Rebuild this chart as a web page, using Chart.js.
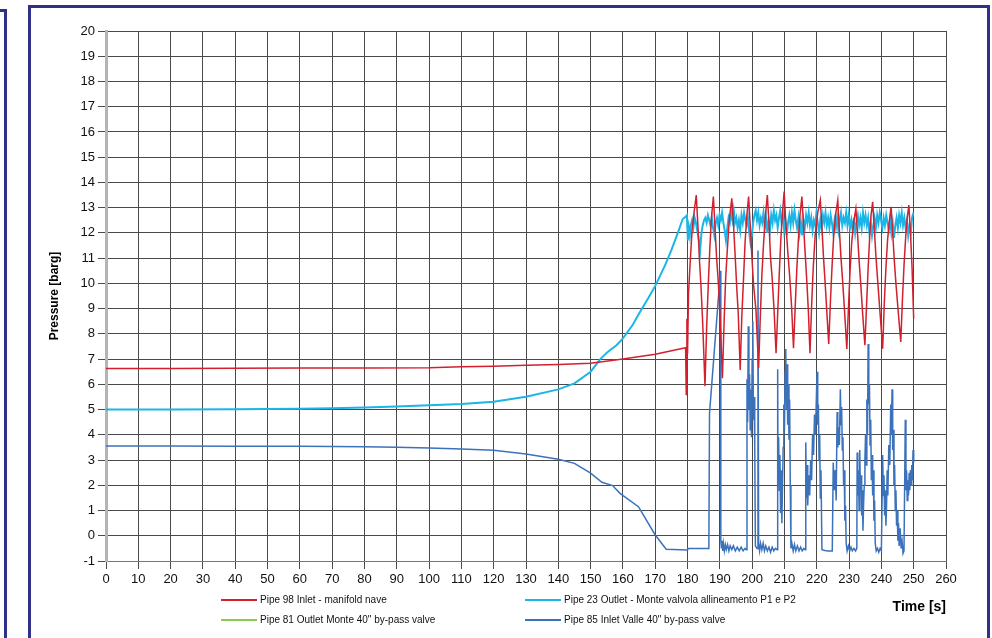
<!DOCTYPE html>
<html>
<head>
<meta charset="utf-8">
<script src="https://cdn.jsdelivr.net/npm/chart.js@4.4.1/dist/chart.umd.min.js"></script>
<style>
  body { margin: 0; background: #fff; width: 992px; height: 638px; overflow: hidden; position: relative; }
  .frame { position: absolute; border: 3px solid #2e3185; box-sizing: border-box; }
  #my-chart { position: absolute; left: 0; top: 0; }
  .leg { position: absolute; font: 10px 'Liberation Sans', Arial, sans-serif; color: #111; white-space: nowrap; }
  .leg span.ln { display: inline-block; width: 36px; height: 0; border-top: 2px solid; vertical-align: middle; margin-right: 3px; }
</style>
</head>
<body>
<div class="frame" style="left:-20px; top:9px; width:27px; height:700px;"></div>
<div class="frame" style="left:28px; top:5px; width:962px; height:700px;"></div>
<canvas id="my-chart" width="992" height="638"></canvas>
<div id="legend"></div>
<script>
// axis ticks
const xTicks = { min: 0, max: 260, step: 10 };
const yTicks = { min: -1, max: 20, step: 1 };

// Pipe 98 Inlet - manifold nave
const redT = [0, 20, 40, 60, 80, 100, 110, 120, 130, 140, 150, 160, 170, 179, 179.4, 179.6, 179.8, 180.0, 180.3, 180.8, 181.4, 182.0, 182.7,
  183.2, 183.7, 184.2, 184.7, 185.4, 185.9, 186.4, 186.9, 187.4, 188.0, 188.5, 189.0, 189.5, 190.1, 190.8, 191.3, 191.8, 192.3, 192.9, 193.7,
  194.2, 194.7, 195.2, 195.7, 196.3, 196.8, 197.3, 197.8, 198.3, 198.9, 199.4, 199.9, 200.4, 201.2, 202.0, 202.5, 203.0, 203.5, 204.1, 204.7,
  205.2, 205.7, 206.2, 206.8, 207.4, 207.9, 208.4, 208.9, 209.4, 209.9, 210.4, 211.0, 211.6, 212.2, 212.8, 213.3, 213.8, 214.3, 214.8, 215.4,
  215.9, 216.5, 217.0, 217.4, 217.9, 218.4, 218.9, 219.5, 220.3, 221.1, 221.6, 222.1, 222.6, 223.1, 223.7, 224.2, 224.7, 225.2, 225.8, 226.5,
  227.0, 227.5, 228.0, 228.6, 229.3, 229.8, 230.3, 230.8, 231.4, 232.1, 232.6, 233.1, 233.6, 234.2, 234.9, 235.4, 235.9, 236.4, 236.8, 237.3,
  237.8, 238.3, 238.8, 239.6, 240.4, 240.9, 241.4, 241.9, 242.4, 243.0, 243.5, 244.0, 244.5, 245.2, 246.0, 246.5, 247.0, 247.5, 248.0, 248.5,
  249.0, 249.5, 250.0];
const redV = [6.63, 6.63, 6.64, 6.65, 6.65, 6.66, 6.70, 6.72, 6.76, 6.79, 6.84, 7.0, 7.19, 7.44, 7.45, 5.6, 8.6, 7.2, 9.6, 10.8, 12.1, 12.8, 13.5,
  12.3, 10.9, 9.8, 8.4, 5.93, 8.2, 9.9, 11.4, 12.6, 13.44, 12.2, 11.0, 10.1, 8.6, 6.24, 8.4, 10.2, 11.3, 12.5, 13.37,
  12.4, 11.2, 9.9, 8.8, 6.57, 8.7, 10.1, 11.6, 12.6, 13.44, 12.3, 11.1, 10.0, 8.9, 6.64, 8.6, 10.3, 11.5, 12.7, 13.5,
  12.4, 11.0, 10.2, 8.9, 7.23, 8.8, 10.4, 11.8, 12.8, 13.64, 12.4, 11.3, 10.3, 9.1, 7.43, 9.0, 10.5, 11.7, 12.7, 13.44,
  12.3, 11.0, 9.9, 8.9, 7.23, 9.1, 10.6, 11.9, 12.8, 13.3, 12.2, 11.0, 10.0, 8.9, 7.6, 9.2, 10.6, 11.8, 12.7, 13.3,
  12.1, 11.0, 10.1, 8.9, 7.4, 9.0, 10.5, 11.6, 12.4, 12.96, 12.0, 10.9, 10.0, 8.8, 7.55, 9.1, 10.6, 11.9, 12.7, 13.23,
  12.2, 11.1, 10.2, 8.8, 7.41, 9.2, 10.6, 11.7, 12.4, 13.03, 12.0, 10.9, 10.0, 8.9, 7.68, 9.3, 10.7, 11.8, 12.6, 13.1,
  12.0, 10.6, 8.6];

// Pipe 23 Outlet - Monte valvola allineamento P1 e P2
const cyanT = [0, 20, 40, 50, 60, 70, 80, 90, 100, 110, 120, 130, 140, 145, 150, 153, 155, 158, 160, 163, 165, 168, 170, 173, 175, 177, 178.5, 179.0, 179.5,
  179.8, 180.1, 180.4, 180.7, 181.0, 181.4, 181.8, 182.2, 182.6, 183.0, 183.4, 183.9, 184.3, 184.7, 185.1, 185.5, 185.9, 186.3, 186.7, 187.1,
  187.5, 187.9, 188.3, 188.7, 189.1, 189.5, 189.9, 190.3, 190.7, 191.1, 191.5, 191.9, 192.3, 192.7, 193.1, 193.5, 193.9, 194.3, 194.7, 195.1,
  195.5, 195.9, 196.3, 196.7, 197.1, 197.5, 197.9, 198.3, 198.7, 199.1, 199.5, 199.9, 200.3, 200.7, 201.1, 201.5, 201.9, 202.3, 202.7, 203.1,
  203.5, 203.9, 204.3, 204.7, 205.1, 205.5, 205.9, 206.3, 206.7, 207.1, 207.5, 207.9, 208.3, 208.7, 209.1, 209.5, 209.9, 210.3, 210.7, 211.1,
  211.5, 211.9, 212.3, 212.7, 213.1, 213.5, 213.9, 214.3, 214.7, 215.1, 215.5, 215.9, 216.3, 216.7, 217.1, 217.5, 217.9, 218.3, 218.7, 219.1,
  219.5, 219.9, 220.3, 220.7, 221.1, 221.5, 221.9, 222.3, 222.7, 223.1, 223.5, 223.9, 224.3, 224.7, 225.1, 225.5, 225.9, 226.3, 226.7, 227.1,
  227.5, 227.9, 228.3, 228.7, 229.1, 229.5, 229.9, 230.3, 230.7, 231.1, 231.5, 231.9, 232.3, 232.7, 233.1, 233.5, 233.9, 234.3, 234.7, 235.1,
  235.5, 235.9, 236.3, 236.7, 237.1, 237.5, 237.9, 238.3, 238.7, 239.1, 239.5, 239.9, 240.3, 240.7, 241.1, 241.5, 241.9, 242.3, 242.7, 243.1,
  243.5, 243.9, 244.3, 244.7, 245.1, 245.5, 245.9, 246.3, 246.7, 247.1, 247.5, 247.9, 248.3, 248.7, 249.1, 249.5, 249.9];
const cyanV = [5.0, 5.0, 5.01, 5.02, 5.03, 5.05, 5.08, 5.12, 5.17, 5.22, 5.31, 5.51, 5.80, 6.04, 6.50, 7.0, 7.25, 7.55, 7.82, 8.35, 8.81, 9.45, 9.9, 10.7, 11.32, 12.0, 12.55, 12.6, 12.65,
  12.7, 11.7, 12.2, 11.9, 12.3, 12.5, 12.2, 12.6, 12.4, 12.1, 11.8, 11.3, 12.0, 12.3, 12.5, 12.6, 12.4, 12.7, 12.5, 12.3,
  12.6, 12.2, 11.9, 12.4, 12.6, 12.3, 12.7, 12.5, 12.8, 12.4, 12.1, 11.7, 12.2, 12.6, 12.4, 12.8, 12.5, 12.9, 12.4, 12.6,
  12.2, 12.5, 12.1, 12.7, 12.4, 12.8, 12.5, 12.3, 12.6, 12.0, 11.6, 11.9, 12.4, 12.7, 12.9, 12.5, 12.8, 12.3, 12.6, 12.4,
  12.8, 12.2, 12.6, 12.0, 12.5, 12.1, 12.7, 12.4, 12.9, 12.5, 12.7, 12.2, 12.6, 12.9, 12.4, 12.7, 12.1, 12.5, 11.9, 12.4,
  12.7, 12.3, 12.8, 12.4, 12.9, 12.5, 12.2, 12.6, 12.0, 12.4, 11.9, 12.5, 12.2, 12.7, 12.4, 12.8, 12.3, 12.6, 12.1, 12.5,
  12.3, 12.8, 12.4, 12.0, 12.5, 12.2, 12.7, 12.4, 12.8, 12.3, 12.6, 12.2, 12.7, 12.4, 12.0, 12.5, 12.2, 12.6, 12.1, 12.5,
  12.8, 12.3, 12.6, 12.4, 12.8, 12.3, 12.7, 12.2, 12.5, 12.1, 12.6, 12.0, 12.4, 12.7, 12.3, 12.6, 12.2, 12.8, 12.4, 12.7,
  12.3, 12.6, 12.0, 12.4, 11.9, 12.3, 12.6, 12.2, 12.7, 12.4, 12.8, 12.5, 12.2, 12.6, 12.3, 12.7, 12.4, 12.1, 12.5, 12.0,
  12.4, 11.8, 12.3, 12.6, 12.2, 12.7, 12.4, 12.8, 12.3, 12.6, 12.2, 12.5, 11.9, 12.3, 12.0, 12.6, 12.8];

// Pipe 85 Inlet Valle 40" by-pass valve
const blueT = [0, 20, 40, 60, 80, 90, 100, 110, 120, 130, 140, 145, 150, 153.5, 156.8, 159.1, 164.8, 170, 173.4, 180, 180.2, 186.6,
  186.8, 190.2, 190.3, 190.5, 190.7, 190.9, 191.1, 191.4, 191.7, 192.0, 192.4, 192.8, 193.2, 193.7, 194.2, 194.8, 195.4, 196.0, 196.6, 197.2, 197.8, 198.2,
  198.4, 198.6, 198.8, 199.0, 199.2, 199.4, 199.6, 199.8, 200.0, 200.2, 200.4, 200.6, 200.8, 201.0, 201.5, 201.8, 202.0,
  202.3, 202.6, 203.0, 203.4, 203.8, 204.2, 204.7, 205.2, 205.7, 206.2, 206.7, 207.2, 207.7,
  207.9, 208.0, 208.2, 208.4, 208.6, 208.8, 209.0, 209.2, 209.4, 209.6, 209.8, 210.0, 210.2, 210.4, 210.6, 210.8, 211.0, 211.2, 211.4, 211.6, 211.8, 212.0,
  212.3, 212.7, 213.1, 213.5, 214.0, 214.5, 215.0, 215.5, 216.0, 216.4,
  216.6, 216.8, 217.0, 217.2, 217.5, 217.8, 218.1, 218.4, 218.7, 219.0, 219.3, 219.6, 219.9, 220.1, 220.3, 220.5, 220.7, 220.9, 221.1, 221.3, 221.6,
  222.5, 223.5, 224.8,
  225.1, 225.4, 225.7, 226.0, 226.3, 226.5, 226.8, 227.0, 227.3, 227.5, 227.7, 227.9, 228.1, 228.3, 228.5, 228.7, 228.9, 229.1, 229.4, 229.8, 230.2, 230.6, 231.0, 231.5, 232.0, 232.4,
  232.5, 232.7, 232.9, 233.1, 233.3, 233.5, 233.7, 233.9, 234.1, 234.3, 234.5, 234.7, 234.9,
  235.1, 235.3, 235.5, 235.7, 235.9, 236.1, 236.3, 236.5, 236.7, 236.9, 237.1, 237.3, 237.5, 237.7, 237.9, 238.1, 238.4, 238.8, 239.2, 239.6, 240.0,
  240.4, 240.6, 240.8, 241.0, 241.2, 241.4, 241.6, 241.8, 242.0, 242.3, 242.6, 242.9, 243.1, 243.3, 243.5, 243.7, 243.9, 244.1, 244.3, 244.5, 244.7, 244.9,
  245.1, 245.3, 245.5, 245.8, 246.1, 246.4, 246.7, 247.0, 247.4, 247.6, 247.8, 248.0, 248.2, 248.4, 248.6, 248.8, 249.0, 249.2, 249.4, 249.6, 249.8, 250.0];
const blueV = [3.56, 3.56, 3.55, 3.55, 3.53, 3.51, 3.48, 3.44, 3.39, 3.24, 3.03, 2.87, 2.48, 2.12, 1.99, 1.68, 1.15, 0.03, -0.53, -0.56, -0.5, -0.5,
  4.85, 10.5, -0.2, -0.5, -0.2, -0.6, -0.3, -0.6, -0.35, -0.55, -0.35, -0.6, -0.4, -0.55, -0.4, -0.6, -0.45, -0.6, -0.45, -0.6, -0.5, -0.55,
  6.2, 4.5, 8.3, 5.0, 6.4, 4.2, 5.8, 3.9, 7.0, 8.5, 4.6, 5.5, 3.6, -0.4, -0.5, 11.3, -0.3,
  -0.6, -0.3, -0.55, -0.3, -0.6, -0.4, -0.6, -0.45, -0.65, -0.45, -0.6, -0.5, -0.55,
  6.6, 2.5, 3.9, 1.8, 3.2, 0.9, 2.6, 0.5, 2.0, 3.5, 5.2, 4.2, 6.5, 7.4, 5.0, 6.8, 4.4, 6.0, 3.8, 5.4, 2.0, -0.5,
  -0.3, -0.6, -0.35, -0.6, -0.4, -0.6, -0.45, -0.6, -0.5, -0.55,
  3.7, 1.5, 2.8, 1.2, 2.4, 1.6, 3.0, 2.2, 4.0, 3.2, 4.8, 4.0, 5.6, 6.5, 4.4, 5.2, 3.0, 4.0, 1.5, 2.6, -0.55,
  -0.58, -0.6, -0.6,
  2.9, 1.8, 2.6, 1.4, 4.9, 3.5, 4.3, 3.6, 5.8, 4.4, 5.1, 3.4, 3.9, 2.0, 2.6, 0.6, 1.2, -0.3, -0.6, -0.4, -0.6, -0.45, -0.6, -0.5, -0.6, -0.5,
  3.3, 1.6, 2.6, 1.0, 3.4, 1.8, 2.4, 0.8, 1.8, 0.2, 1.3, 2.0, 3.0,
  4.0, 2.8, 5.4, 4.0, 7.6, 5.2, 6.0, 3.6, 4.6, 2.2, 3.2, 1.6, 2.6, 0.6, 1.4, -0.3, -0.6, -0.5, -0.65, -0.5, -0.6,
  3.2, 1.6, 2.4, 0.8, 1.8, 0.4, 1.2, 2.6, 1.6, 3.6, 2.8, 5.2, 4.0, 5.8, 3.4, 4.2, 2.0, 2.8, 1.0, 1.8, 0.4, 1.0,
  -0.2, 0.5, -0.4, 0.3, -0.5, -0.2, -0.7, -0.6, 4.6, 1.8, 2.6, 1.4, 2.2, 1.6, 2.5, 1.8, 2.6, 2.0, 2.8, 2.2, 3.4, 2.9];

// Pipe 81 Outlet Monte 40" by-pass valve: not visible in the picture (only in the legend)
const greenT = [];
const greenV = [];

const seriesNames = ['Pipe 98 Inlet - manifold nave', 'Pipe 23 Outlet - Monte valvola allineamento P1 e P2',
  'Pipe 81 Outlet Monte 40" by-pass valve', 'Pipe 85 Inlet Valle 40" by-pass valve'];
const seriesColors = ['#d2202f', '#1cb5e8', '#8cc850', '#3b72bb'];

function pts(t, v) { return t.map((x, i) => ({ x: x, y: v[i] })); }

const seriesData = [pts(redT, redV), pts(cyanT, cyanV), pts(greenT, greenV), pts(blueT, blueV)];
// draw order: red on top of cyan, blue on top of green
const drawOrder = [1, 2, 4, 3];

const titleFont = "'Liberation Sans', Arial, sans-serif";

const ctx = document.getElementById('my-chart').getContext('2d');
const chart = new Chart(ctx, {
  type: 'line',
  data: {
    datasets: seriesNames.map((name, i) => ({
      label: name,
      data: seriesData[i],
      borderColor: seriesColors[i],
      backgroundColor: seriesColors[i],
      borderWidth: i == 1 ? 2 : 1.5,
      pointRadius: 0,
      tension: 0,
      order: drawOrder[i]
    }))
  },
  options: {
    responsive: false,
    animation: false,
    layout: { padding: { top: 31, right: 46, left: 0, bottom: 0 } },
    plugins: { legend: { display: false }, tooltip: { enabled: false } },
    scales: {
      x: {
        type: 'linear',
        min: xTicks.min, max: xTicks.max,
        afterFit: s => { s.height = 77; },
        ticks: { stepSize: xTicks.step, color: '#111', font: { family: titleFont, size: 13 }, maxRotation: 0, padding: 3 },
        grid: { color: '#4a4a4a', lineWidth: 1, tickLength: 8 },
        border: { color: '#777', width: 1 },
        title: { display: true, text: 'Time [s]', align: 'end', color: '#000',
          font: { family: titleFont, size: 14, weight: 'bold' },
          padding: { top: 0, bottom: 22 } }
      },
      y: {
        min: yTicks.min, max: yTicks.max,
        afterFit: s => { s.width = 106; },
        ticks: { stepSize: yTicks.step, color: '#111', font: { family: titleFont, size: 13 }, padding: 3 },
        grid: { color: '#4a4a4a', lineWidth: 1, tickLength: 8 },
        border: { color: '#b4b4b4', width: 3 },
        title: { display: true, text: 'Pressure [barg]', color: '#000',
          font: { family: titleFont, size: 12, weight: 'bold' },
          padding: { top: 47, bottom: 0 } }
      }
    }
  }
}); // closes chart = new Chart()

// legend in two columns, as in the picture
const legendPos = [[221, 601], [525, 601], [221, 621], [525, 621]];
const legendBox = document.getElementById('legend');
seriesNames.forEach((name, i) => {
  const d = document.createElement('div');
  d.className = 'leg';
  d.style.left = legendPos[i][0] + 'px';
  d.style.top = (legendPos[i][1] - 7) + 'px';
  const ln = document.createElement('span');
  ln.className = 'ln';
  ln.style.borderTopColor = seriesColors[i];
  d.appendChild(ln);
  d.appendChild(document.createTextNode(name));
  legendBox.appendChild(d);
});
</script>
</body>
</html>
